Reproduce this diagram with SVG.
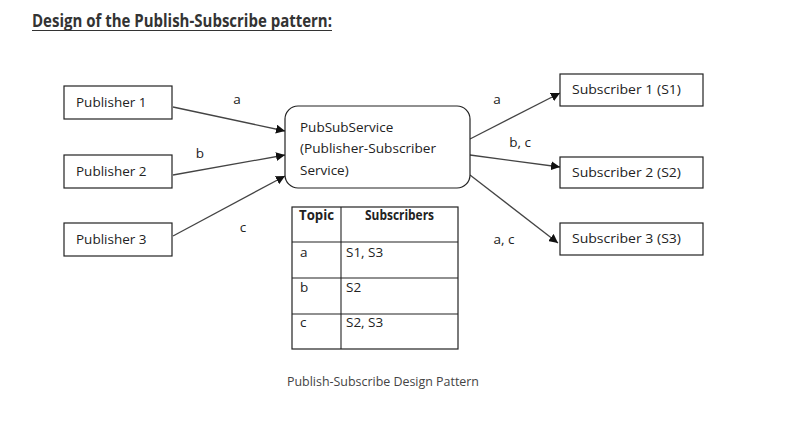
<svg xmlns="http://www.w3.org/2000/svg" width="786" height="422" viewBox="0 0 786 422">
<defs>
<marker id="ah" viewBox="0 0 10 10" refX="10" refY="5" markerWidth="9" markerHeight="9" markerUnits="userSpaceOnUse" orient="auto">
<path d="M0,0 L10,5 L0,10 z" fill="#111"/>
</marker>
</defs>
<style>
.box{fill:#fff;stroke:#222;stroke-width:1.2}
.t{font-family:"Open Sans","Liberation Sans",sans-serif;font-size:13.5px;fill:#222}
.b{font-weight:bold}
.c{stroke:#444;stroke-width:1.3;fill:none;marker-end:url(#ah)}
.g{stroke:#222;stroke-width:1.1}
</style>
<rect width="786" height="422" fill="#fff"/>
<text x="32" y="27" font-family="'Open Sans','Liberation Sans',sans-serif" font-size="17" font-weight="bold" fill="#333" textLength="300" lengthAdjust="spacingAndGlyphs">Design of the Publish-Subscribe pattern:</text>
<line x1="32" y1="30.5" x2="332" y2="30.5" stroke="#333" stroke-width="1"/>

<g id="connectors">
<line class="c" x1="173" y1="107" x2="285" y2="131"/>
<line class="c" x1="173" y1="175" x2="285" y2="155"/>
<line class="c" x1="173" y1="236" x2="285" y2="176"/>
<line class="c" x1="470" y1="139" x2="560" y2="93"/>
<line class="c" x1="470" y1="155" x2="560" y2="167"/>
<line class="c" x1="470" y1="175" x2="558" y2="243"/>
<text class="t" x="237" y="104" text-anchor="middle">a</text>
<text class="t" x="200" y="158" text-anchor="middle">b</text>
<text class="t" x="243" y="232" text-anchor="middle">c</text>
<text class="t" x="497" y="104" text-anchor="middle">a</text>
<text class="t" x="520" y="147" text-anchor="middle">b, c</text>
<text class="t" x="504" y="244" text-anchor="middle">a, c</text>
</g>

<g id="publisher1"><rect class="box" x="64" y="86" width="108" height="33"/><text class="t" x="76" y="107">Publisher 1</text></g>
<g id="publisher2"><rect class="box" x="64" y="155" width="108" height="33"/><text class="t" x="76" y="176">Publisher 2</text></g>
<g id="publisher3"><rect class="box" x="64" y="223" width="108" height="33"/><text class="t" x="76" y="244">Publisher 3</text></g>

<g id="pubsubservice"><rect class="box" x="285" y="106" width="185" height="82" rx="13"/>
<text class="t" x="300" y="132">PubSubService</text>
<text class="t" x="300" y="153" textLength="136" lengthAdjust="spacingAndGlyphs">(Publisher-Subscriber</text>
<text class="t" x="300" y="175">Service)</text></g>

<g id="subscriber1"><rect class="box" x="560" y="74" width="143" height="32"/><text class="t" x="572" y="94" textLength="109" lengthAdjust="spacingAndGlyphs">Subscriber 1 (S1)</text></g>
<g id="subscriber2"><rect class="box" x="560" y="157" width="143" height="31"/><text class="t" x="572" y="177" textLength="109" lengthAdjust="spacingAndGlyphs">Subscriber 2 (S2)</text></g>
<g id="subscriber3"><rect class="box" x="560" y="223" width="143" height="32"/><text class="t" x="572" y="243" textLength="109" lengthAdjust="spacingAndGlyphs">Subscriber 3 (S3)</text></g>

<g id="topic-table">
<rect class="box" x="292" y="207" width="166" height="142"/>
<line class="g" x1="341" y1="207" x2="341" y2="349"/>
<line class="g" x1="292" y1="242" x2="458" y2="242"/>
<line class="g" x1="292" y1="278" x2="458" y2="278"/>
<line class="g" x1="292" y1="314" x2="458" y2="314"/>
<text class="t b" x="299" y="220" textLength="35" lengthAdjust="spacingAndGlyphs">Topic</text>
<text class="t b" x="365" y="220" textLength="69" lengthAdjust="spacingAndGlyphs">Subscribers</text>
<text class="t" x="300" y="257">a</text><text class="t" x="346" y="257">S1, S3</text>
<text class="t" x="300" y="292">b</text><text class="t" x="346" y="292">S2</text>
<text class="t" x="300" y="327">c</text><text class="t" x="346" y="327">S2, S3</text>
</g>

<text x="287" y="386" font-family="'Open Sans','Liberation Sans',sans-serif" font-size="13" fill="#444" textLength="192" lengthAdjust="spacingAndGlyphs">Publish-Subscribe Design Pattern</text>
</svg>
